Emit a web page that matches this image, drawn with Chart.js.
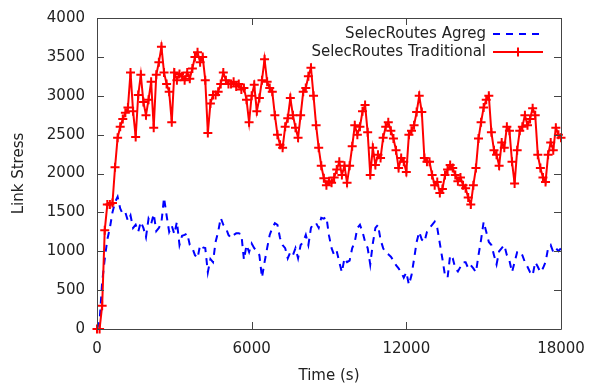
<!DOCTYPE html>
<html><head><meta charset="utf-8">
<script src="https://cdn.jsdelivr.net/npm/chart.js@4/dist/chart.umd.min.js"></script>
<style>html,body{margin:0;padding:0;background:#fff}#wrap{width:589px;height:383px}</style>
</head><body><div id="wrap"><canvas id="c" width="589" height="383"></canvas></div>
<script>
const timeStep = 100; // seconds between samples
const xTicks = [0, 6000, 12000, 18000];
const yTicks = [0, 500, 1000, 1500, 2000, 2500, 3000, 3500, 4000];
const seriesNames = ["SelecRoutes Agreg", "SelecRoutes Traditional"];

const agreg = [0,100,600,900,1150,1300,1500,1630,1700,1550,1480,1500,1390,1460,1300,1340,1250,1380,1300,1180,
1420,1350,1480,1260,1300,1370,1690,1460,1250,1330,1220,1380,1080,1200,1210,1230,1080,1040,950,910,
1080,1050,1040,730,900,860,1120,1250,1430,1340,1300,1210,1170,1210,1230,1230,1220,890,1080,990,
1100,1040,1000,950,660,860,1040,1210,1300,1360,1340,1170,1080,1040,910,990,950,1040,910,1080,
1120,1210,1080,1300,1360,1360,1300,1430,1420,1440,1200,1040,950,1000,860,730,910,860,880,1040,
1120,1300,1340,1250,1120,1040,830,1100,1300,1340,1150,1040,980,960,930,880,820,780,730,660,
730,570,690,900,1120,1250,1150,1120,1250,1300,1340,1380,1300,1100,900,690,660,950,910,780,
740,800,860,860,780,820,780,730,950,1150,1380,1250,1120,1080,950,830,1000,1040,1080,950,
880,730,860,990,1000,950,860,800,730,690,860,800,730,780,860,1040,1080,990,1040,1000,1040];

const traditional = [0,0,300,1270,1600,1600,1620,2080,2460,2600,2700,2780,2850,3300,2800,2470,3010,3270,2920,2750,
2950,3180,2590,3270,3430,3630,3300,3150,3050,2660,3300,3200,3280,3250,3200,3300,3220,3350,3500,3560,
3430,3500,3200,2520,2900,3010,3010,3050,3150,3300,3200,3150,3150,3180,3120,3150,3080,3100,2950,2660,
3000,3140,2800,2970,3200,3470,3180,3100,3050,2750,2500,2370,2330,2600,2710,2970,2750,2590,2460,2750,
3050,3100,3250,3360,3000,2620,2330,2100,1940,1850,1900,1880,1950,2050,2150,1980,2100,1880,2100,2350,
2620,2500,2600,2800,2880,2530,1980,2330,2110,2240,2200,2460,2600,2660,2550,2450,2300,2070,2200,2150,
2020,2500,2550,2620,2790,3000,2790,2200,2150,2150,1980,1850,1890,1750,1800,1980,2050,2110,2070,1980,
1900,1950,1850,1810,1690,1600,1850,2070,2450,2660,2850,2950,3000,2530,2300,2240,2100,2400,2330,2600,
2550,2150,1870,2300,2550,2600,2750,2620,2700,2840,2750,2240,2070,1950,1890,2240,2400,2300,2590,2500,2460];

const toPts = arr => arr.map((v, i) => ({x: i * timeStep, y: v}));

const FONT = "'DejaVu Sans', sans-serif";
const TXT = '#222';

const frame = {
  id: 'frame',
  afterDatasetsDraw(chart) {
    const ctx = chart.ctx, a = chart.chartArea;
    const xs = chart.scales.x, ys = chart.scales.y;
    ctx.save();
    ctx.strokeStyle = '#444';
    ctx.lineWidth = 1;
    ctx.beginPath();
    ctx.rect(Math.round(a.left) + 0.5, Math.round(a.top) + 0.5, Math.round(a.right - a.left), Math.round(a.bottom - a.top));
    ctx.stroke();
    const L = 7;
    ctx.beginPath();
    yTicks.forEach(v => {
      const y = Math.round(ys.getPixelForValue(v)) + 0.5;
      ctx.moveTo(a.left, y); ctx.lineTo(a.left + L, y);
      ctx.moveTo(a.right, y); ctx.lineTo(a.right - L, y);
    });
    xTicks.forEach(v => {
      const x = Math.round(xs.getPixelForValue(v)) + 0.5;
      ctx.moveTo(x, a.bottom); ctx.lineTo(x, a.bottom - L);
      ctx.moveTo(x, a.top); ctx.lineTo(x, a.top + L);
    });
    ctx.stroke();
    // legend (gnuplot style: text then sample)
    const ds = chart.data.datasets;
    const textRight = 486, s0 = 493, s1 = 543;
    const rows = [34, 52];
    ctx.font = '15px ' + FONT;
    ctx.textAlign = 'right';
    ctx.textBaseline = 'middle';
    ds.forEach((d, i) => {
      const y = rows[i];
      ctx.fillStyle = TXT;
      ctx.fillText(d.label, textRight, y);
      ctx.strokeStyle = d.borderColor;
      ctx.lineWidth = d.borderWidth;
      ctx.setLineDash(d.borderDash || []);
      ctx.beginPath(); ctx.moveTo(s0, y); ctx.lineTo(s1, y); ctx.stroke();
      ctx.setLineDash([]);
      if (d.pointStyle === 'cross') {
        const m = (s0 + s1) / 2, r = d.pointRadius;
        ctx.lineWidth = d.pointBorderWidth;
        ctx.beginPath();
        ctx.moveTo(m - r, y); ctx.lineTo(m + r, y);
        ctx.moveTo(m, y - r); ctx.lineTo(m, y + r);
        ctx.stroke();
      }
    });
    ctx.restore();
  }
};

new Chart(document.getElementById('c'), {
  type: 'line',
  data: {
    datasets: [
      {label: seriesNames[0], data: toPts(agreg), borderColor: '#0000ff', borderWidth: 2,
       borderDash: [7, 6], pointRadius: 0, fill: false, tension: 0, order: 2},
      {label: seriesNames[1], data: toPts(traditional), borderColor: '#ff0000', borderWidth: 2,
       pointStyle: 'cross', pointRadius: 4.5, pointBorderWidth: 2, pointBorderColor: '#ff0000',
       fill: false, tension: 0, order: 1, clip: false}
    ]
  },
  options: {
    responsive: false, animation: false, devicePixelRatio: 1,
    layout: {padding: {left: 0, right: 28, top: 18, bottom: 0}},
    plugins: {legend: {display: false}, tooltip: {enabled: false}},
    scales: {
      x: {type: 'linear', min: 0, max: 18000,
          afterBuildTicks: s => { s.ticks = xTicks.map(v => ({value: v})); },
          afterFit: s => { s.height = 54; s.paddingLeft = 0; s.paddingRight = 0; },
          grid: {display: false, drawTicks: false}, border: {display: false},
          ticks: {color: TXT, font: {family: FONT, size: 15}, padding: 11, maxRotation: 0, autoSkip: false,
                  callback: v => String(v)},
          title: {display: true, text: 'Time (s)', color: TXT, font: {family: FONT, size: 15}, padding: {top: 0, bottom: -2}}},
      y: {type: 'linear', min: 0, max: 4000,
          afterBuildTicks: s => { s.ticks = yTicks.map(v => ({value: v})); },
          afterFit: s => { s.width = 97; s.paddingTop = 0; s.paddingBottom = 0; },
          grid: {display: false, drawTicks: false}, border: {display: false},
          ticks: {color: TXT, font: {family: FONT, size: 15}, padding: 12, autoSkip: false,
                  callback: v => String(v)},
          title: {display: true, text: 'Link Stress', color: TXT, font: {family: FONT, size: 15}, padding: {top: 10, bottom: 0}}}
    }
  },
  plugins: [frame]
});
</script></body></html>
